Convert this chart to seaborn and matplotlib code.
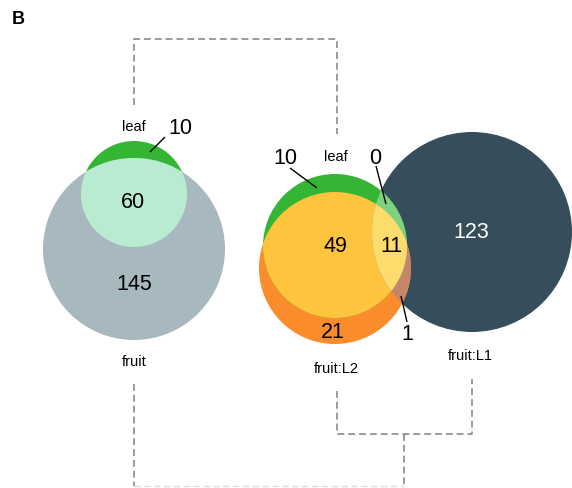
import numpy as np
import matplotlib
matplotlib.use("Agg")
import matplotlib.pyplot as plt
from matplotlib.patches import Circle, Polygon
import seaborn as sns

# ---- region counts -------------------------------------------------------
# left diagram: leaf vs fruit
left_sets = ["leaf", "fruit"]
left_counts = {"leaf_only": 10, "leaf_fruit": 60, "fruit_only": 145}

# right diagram: leaf vs fruit:L2 vs fruit:L1
right_sets = ["leaf", "fruit:L2", "fruit:L1"]
right_counts = {
    "leaf_only": 10,
    "leaf_L2": 49,
    "leaf_L2_L1": 11,
    "leaf_L1": 0,
    "L2_L1": 1,
    "L2_only": 21,
    "L1_only": 123,
}

# ---- style ---------------------------------------------------------------
sns.set_theme(style="white")
plt.rcParams["font.family"] = ["Liberation Sans", "DejaVu Sans"]
plt.rcParams["text.color"] = "black"

pal = sns.color_palette([
    "#a7b9bf",  # fruit
    "#b8ebd0",  # leaf & fruit
    "#34b534",  # leaf only
    "#364d5c",  # fruit:L1
    "#fb8c2c",  # fruit:L2
    "#ffc43e",  # leaf & L2
    "#7dd37d",  # leaf & L1
    "#fddc6e",  # leaf & L2 & L1
    "#c48668",  # L2 & L1
])
c_fruit, c_lf, c_leaf, c_l1, c_l2, c_leafl2, c_leafl1, c_all, c_l2l1 = pal

W, H = 572, 489
fig = plt.figure(figsize=(W / 100, H / 100), dpi=100)
ax = fig.add_axes([0, 0, 1, 1])
ax.set_xlim(0, W)
ax.set_ylim(H, 0)
ax.set_aspect("equal")
ax.axis("off")

# ---- circle layout (centre x, centre y, radius) --------------------------
L_leaf = (134, 195, 53)
L_fruit = (134, 250, 91)
R_leaf = (335, 247, 72)
R_l2 = (335, 269, 76)
R_l1 = (472, 233, 100)


def clip_circle(geom):
    x, y, r = geom
    return Circle((x, y), r, transform=ax.transData)


def circ(geom, color, z, clip=None):
    x, y, r = geom
    p = Circle((x, y), r, facecolor=color, edgecolor="none", lw=0, zorder=z)
    ax.add_patch(p)
    if clip is not None:
        p.set_clip_path(clip_circle(clip))
    return p


def lens(a, b, n=400):
    """Polygon of the intersection of two circles."""
    pts = []
    for (x, y, r), (ox, oy, orr) in ((a, b), (b, a)):
        t = np.linspace(0, 2 * np.pi, n, endpoint=False)
        px, py = x + r * np.cos(t), y + r * np.sin(t)
        keep = (px - ox) ** 2 + (py - oy) ** 2 <= orr ** 2
        pts.append(np.column_stack([px[keep], py[keep]]))
    pts = np.vstack(pts)
    c = pts.mean(axis=0)
    order = np.argsort(np.arctan2(pts[:, 1] - c[1], pts[:, 0] - c[0]))
    return pts[order]


# ---- left diagram --------------------------------------------------------
circ(L_leaf, c_leaf, 1)
circ(L_fruit, c_fruit, 2)
circ(L_leaf, c_lf, 3, clip=L_fruit)

# ---- right diagram -------------------------------------------------------
circ(R_l1, c_l1, 1)
circ(R_l2, c_l2, 2)
circ(R_leaf, c_leaf, 3)
circ(R_leaf, c_leafl2, 4, clip=R_l2)
circ(R_l2, c_l2l1, 5, clip=R_l1)
circ(R_leaf, c_leafl1, 6, clip=R_l1)
tri = Polygon(lens(R_leaf, R_l2), closed=True, facecolor=c_all,
              edgecolor="none", lw=0, zorder=7)
ax.add_patch(tri)
tri.set_clip_path(clip_circle(R_l1))

# ---- counts --------------------------------------------------------------
num_fs = 15.5
set_fs = 10.5


def num(x, y, v, color="black"):
    ax.text(x, y, str(v), ha="center", va="center", fontsize=num_fs,
            color=color, zorder=10)


def leader(x0, y0, x1, y1):
    ax.plot([x0, x1], [y0, y1], color="black", lw=1.0, zorder=10,
            solid_capstyle="butt")


num(180, 129, left_counts["leaf_only"])
leader(150, 153, 165, 138)
num(133, 202, left_counts["leaf_fruit"])
num(134, 285, left_counts["fruit_only"])

num(285, 158, right_counts["leaf_only"])
leader(290, 169, 317, 189)
num(375, 158, right_counts["leaf_L1"])
leader(376, 167, 386, 205)
num(335, 247, right_counts["leaf_L2"])
num(391, 247, right_counts["leaf_L2_L1"])
num(471, 233, right_counts["L1_only"], color="white")
num(333, 333, right_counts["L2_only"])
num(407, 335, right_counts["L2_L1"])
leader(401, 297, 407, 323)

# ---- set names -----------------------------------------------------------
def setname(x, y, s):
    ax.text(x, y, s, ha="center", va="center", fontsize=set_fs, zorder=10)


setname(134, 127, left_sets[0])
setname(134, 362, left_sets[1])
setname(336, 157, right_sets[0])
setname(336, 369, right_sets[1])
setname(470, 356, right_sets[2])

# ---- dendrogram-style dashed connectors ---------------------------------
dash = dict(color="#808080", lw=1.1, dashes=(4.5, 2.6), zorder=0)
ax.plot([134, 134, 337, 337], [106, 40, 40, 135], **dash)
ax.plot([337, 337, 472, 472], [392, 435, 435, 380], **dash)
ax.plot([404, 404], [435, 487], **dash)
ax.plot([134, 134], [385, 487], **dash)
ax.plot([134, 404], [487, 487], color="#dcdcdc", lw=1.0,
        dashes=(4.5, 2.6), zorder=0)

# ---- panel tag -----------------------------------------------------------
ax.text(12, 20, "B", ha="left", va="center", fontsize=13, fontweight="bold",
        color="black")

fig.savefig("out.png", dpi=100)
